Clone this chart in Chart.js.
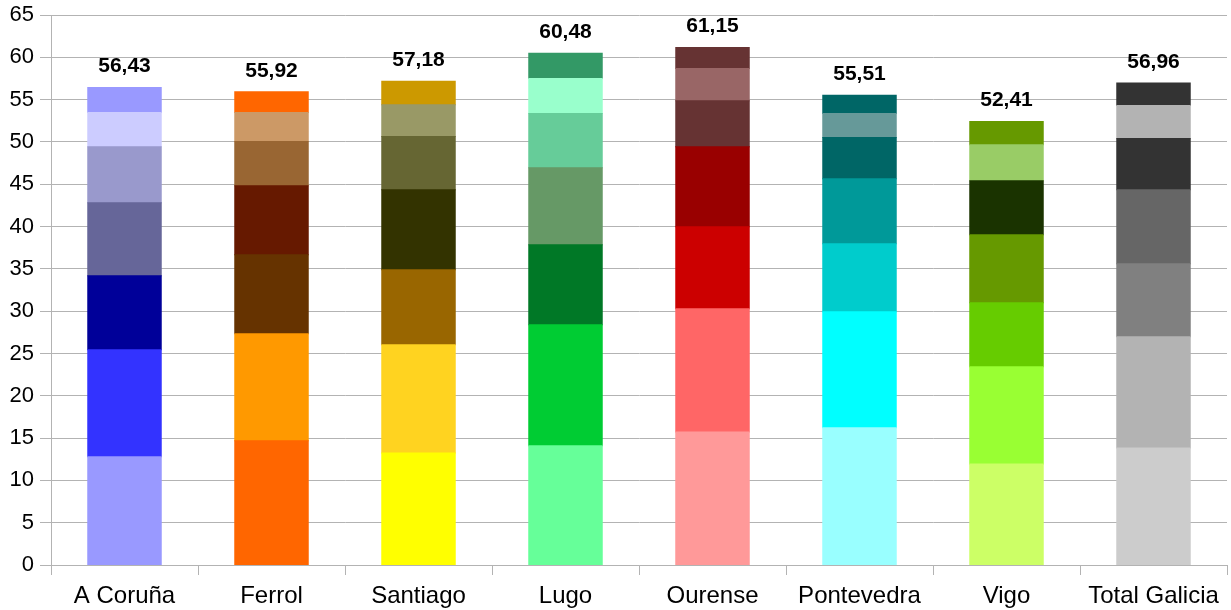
<!DOCTYPE html>
<html lang="es">
<head>
    <meta charset="UTF-8">
    <title>Galicia - barras apiladas</title>
    <script src="https://cdn.jsdelivr.net/npm/chart.js"></script>
    <style>
        body {
            margin: 0;
            padding: 0;
            background: #fff;
        }
        .wrap {
            width: 1231px;
            height: 610px;
        }
    </style>
</head>
<body>
    <div class="wrap">
        <canvas id="chart" width="1231" height="610"></canvas>
    </div>

    <script>
        const categories = ["A Coruña", "Ferrol", "Santiago", "Lugo", "Ourense", "Pontevedra", "Vigo", "Total Galicia"];

        // segmentos de abajo a arriba
        const level1 = [12.78, 14.67, 13.25, 14.08, 15.73, 16.21, 11.95, 13.84];
        const level2 = [12.65, 12.65, 12.77, 14.31, 14.55, 13.72, 11.47, 13.13];
        const level3 = [8.75, 9.35, 8.87, 9.46, 9.70, 8.04, 7.57, 8.63];
        const level4 = [8.64, 8.16, 9.47, 9.11, 9.46, 7.69, 8.04, 8.76];
        const level5 = [6.62, 5.21, 6.27, 6.39, 5.44, 4.85, 6.39, 6.03];
        const level6 = [4.03, 3.43, 3.75, 4.14, 3.79, 2.84, 4.26, 3.90];
        const level7 = [2.96, 2.45, 2.80, 2.99, 2.48, 2.16, 2.73, 2.67];
        const totals = [56.43, 55.92, 57.18, 60.48, 61.15, 55.51, 52.41, 56.96];

        // colores por barra (una lista por nivel)
        const colors = [
            ["#9999ff", "#ff6600", "#ffff00", "#66ff99", "#ff9999", "#99ffff", "#ccff66", "#cccccc"],
            ["#3333ff", "#ff9900", "#ffd320", "#00cc33", "#ff6666", "#00ffff", "#99ff33", "#b3b3b3"],
            ["#000099", "#663300", "#996600", "#007826", "#cc0000", "#00cccc", "#66cc00", "#808080"],
            ["#666699", "#661900", "#333300", "#669966", "#990000", "#009999", "#669900", "#666666"],
            ["#9999cc", "#996633", "#666633", "#66cc99", "#663333", "#006666", "#1a3300", "#333333"],
            ["#ccccff", "#cc9966", "#999966", "#99ffcc", "#996666", "#669999", "#99cc66", "#b3b3b3"],
            ["#9999ff", "#ff6600", "#cc9900", "#339966", "#663333", "#006666", "#669900", "#333333"]
        ];

        const levels = [level1, level2, level3, level4, level5, level6, level7];
        const fontFamily = "'Liberation Sans', Arial, sans-serif";

        const totalsPlugin = {
            id: 'totals',
            afterDatasetsDraw(chart) {
                const ctx = chart.ctx;
                const meta = chart.getDatasetMeta(levels.length - 1);
                ctx.save();
                ctx.font = "bold 21px " + fontFamily;
                ctx.fillStyle = "#000";
                ctx.textAlign = "center";
                ctx.textBaseline = "middle";
                meta.data.forEach((bar, i) => {
                    const txt = totals[i].toFixed(2).replace(".", ",");
                    ctx.fillText(txt, bar.x, bar.y - 21);
                });
                ctx.restore();
            }
        };

        new Chart(document.getElementById("chart"), {
            type: 'bar',
            data: {
                labels: categories,
                datasets: levels.map((vals, i) => ({
                    label: "Nivel " + (i + 1),
                    data: vals,
                    backgroundColor: colors[i],
                    borderWidth: 0,
                    inflateAmount: 0.5,
                    barPercentage: 0.5,
                    categoryPercentage: 1.0
                }))
            },
            options: {
                responsive: false,
                animation: false,
                layout: {
                    padding: { top: 15, right: 4, left: 0, bottom: 0 }
                },
                plugins: {
                    legend: { display: false },
                    tooltip: { enabled: false }
                },
                scales: {
                    x: {
                        stacked: true,
                        afterFit(scale) { scale.height = 45; },
                        grid: {
                            offset: true,
                            color: c => (c.index === 0 || c.index === categories.length) ? '#b3b3b3' : 'rgba(0,0,0,0)',
                            tickColor: '#b3b3b3',
                            tickLength: 10
                        },
                        border: { color: '#b3b3b3' },
                        ticks: {
                            color: '#000',
                            font: { family: fontFamily, size: 24 },
                            padding: 7
                        }
                    },
                    y: {
                        stacked: true,
                        min: 0,
                        max: 65,
                        afterFit(scale) {
                            scale.width = 51;
                            scale.paddingTop = 0;
                        },
                        grid: {
                            color: '#b3b3b3',
                            tickColor: '#b3b3b3',
                            tickLength: 11
                        },
                        border: { color: '#b3b3b3' },
                        ticks: {
                            stepSize: 5,
                            color: '#000',
                            font: { family: fontFamily, size: 22 },
                            padding: 6
                        }
                    }
                }
            },
            plugins: [totalsPlugin]
        });
    </script>
</body>
</html>
